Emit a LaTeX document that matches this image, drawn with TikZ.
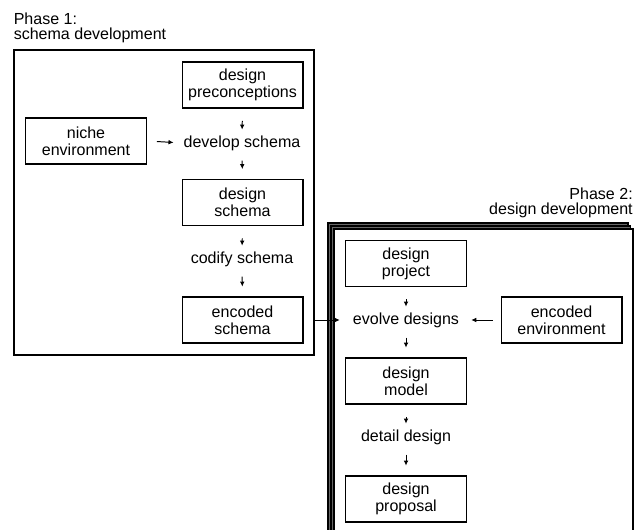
\documentclass[tikz,border=0pt]{standalone}
\usepackage{fontspec}
\setmainfont{Liberation Sans}
\usetikzlibrary{arrows.meta}
\newcommand{\boxfont}{\fontsize{11.4}{12}\selectfont}
\newcommand{\headfont}{\fontsize{11.4}{10.7}\selectfont}
\tikzset{
	stage/.style={draw, line width=0.75pt, align=center, minimum width=86pt, minimum height=32.7pt, inner sep=0pt, font=\boxfont},
	act/.style={inner sep=0pt, font=\boxfont},
	head/.style={inner sep=0pt, font=\headfont},
	flow/.style={-{Latex[length=3.6pt,width=3.4pt]}, line width=0.7pt, shorten <=7pt, shorten >=7pt},
	flowin/.style={flow, shorten <=8.8pt, shorten >=4pt},
	sheet/.style={draw, line width=0.75pt, fill=black!60},
}

\begin{document}
\begin{tikzpicture}[x=0.025cm, y=-0.025cm]
		%%%%% START %%%%%
		\clip (0,0) rectangle (635,530);
		
		% phase 1
		\node[head, align=left, anchor=north west] (phaseonelbl) at (13.5,12.7) {Phase 1:\\schema development};
		\node[draw, line width=1.1pt, minimum width=213.4pt, minimum height=216.9pt, inner sep=0pt] (phaseone) at (164,202.5) {};
		
		\node[stage] (dpre) at (242.5,85) {design\\preconceptions};
		\node[stage] (niche) at (86,141) {niche\\environment};
		\node[act] (develop) at (242,143) {develop schema};
		\node[stage] (dsch) at (242.5,202.5) {design\\schema};
		\node[act] (codify) at (242,259) {codify schema};
		\node[stage] (esch) at (242.5,320) {encoded\\schema};
		
		\draw[flowin] (dpre.south) -- (develop.north);
		\draw[flow] (niche.east) -- (develop.west);
		\draw[flow] (develop.south) -- (dsch.north);
		\draw[flowin] (dsch.south) -- (codify.north);
		\draw[flow] (codify.south) -- (esch.north);
		
		% phase 2
		\draw[sheet] (328,223) rectangle (628,545);
		\draw[sheet] (331,226) rectangle (630.5,545);
		\draw[sheet, fill=white] (334,229) rectangle (633,545);
		\node[head, align=right, anchor=north east] (phasetwolbl) at (633,188) {Phase 2:\\design development};
		
		\node[stage] (dproj) at (406,263.5) {design\\project};
		\node[act] (evolve) at (406,320) {evolve designs};
		\node[stage] (encenv) at (561.5,320) {encoded\\environment};
		\node[stage] (dmod) at (406,381) {design\\model};
		\node[act] (detail) at (406,437) {detail design};
		\node[stage] (dprop) at (406,499) {design\\proposal};
		
		\draw[flowin] (dproj.south) -- (evolve.north);
		\draw[flow, shorten <=5.7pt, shorten >=8.5pt] (encenv.west) -- (evolve.east);
		\draw[flow, shorten <=0pt, shorten >=9.2pt] (esch.east -| phaseone.east) -- (evolve.west);
		\draw[flow] (evolve.south) -- (dmod.north);
		\draw[flowin] (dmod.south) -- (detail.north);
		\draw[flow] (detail.south) -- (dprop.north);
		%%%%% END %%%%%
	\end{tikzpicture}
\end{document}
